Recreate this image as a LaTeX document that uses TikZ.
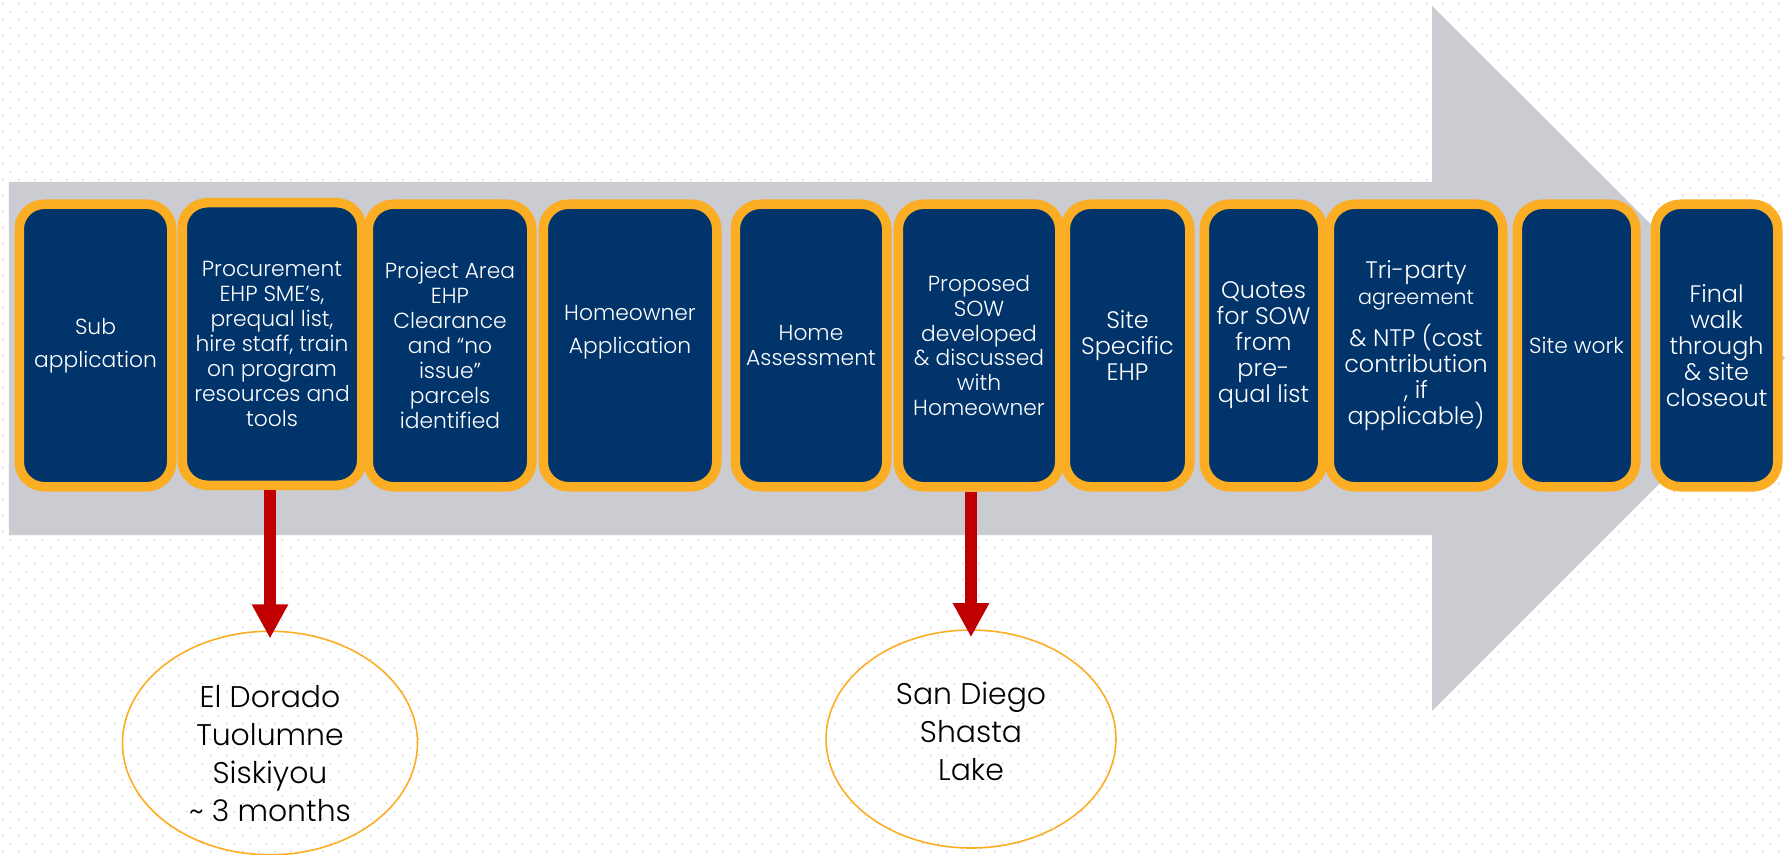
\documentclass[tikz,border=0pt]{standalone}
\usepackage{fontspec}
\IfFontExistsTF{Poppins Light}{\setmainfont{Poppins Light}}{\setmainfont{Poppins}}
\usetikzlibrary{arrows.meta,positioning,shapes.geometric,patterns.meta}

\definecolor{stagenavy}{HTML}{00346A}
\definecolor{stageorange}{HTML}{FBAD24}
\definecolor{bandgray}{HTML}{CBCCD1}
\definecolor{pinred}{HTML}{C00000}
\definecolor{dotgray}{HTML}{C4C4C4}

\tikzdeclarepattern{
  name=slidedots,
  type=colored,
  bottom left={(0,0)},
  top right={(0.16,0.16)},
  tile size={(0.16,0.16)},
  code={
    \fill[dotgray] (0.04,0.04) circle (0.008);
    \fill[dotgray] (0.12,0.12) circle (0.008);
  }
}

\tikzset{
  stage/.style={draw=stageorange,fill=stagenavy,line width=0.095cm,rounded corners=0.25cm,
    minimum height=2.825cm,inner sep=0pt,text=white,align=center,
    font=\fontsize{6.2}{7.1}\selectfont},
  bigstage/.style={stage,font=\fontsize{6.8}{7.4}\selectfont},
  county/.style={ellipse,draw=stageorange,line width=0.45pt,inner sep=0pt,align=center,
    font=\fontsize{8.5}{10.8}\selectfont},
  pinarrow/.style={draw=pinred,line width=0.12cm,shorten >=-0.08cm,
    -{Triangle[width=0.34cm,length=0.34cm,fill=pinred]}},
}

\begin{document}
\begin{tikzpicture}
  \useasboundingbox (0,0) rectangle (17.85,8.54);
  % slide background
  \fill[white] (0,0) rectangle (17.85,8.54);
  \fill[pattern=slidedots] (0,0) rectangle (17.85,8.54);

  % big grey process arrow
  \fill[bandgray] (0.09,6.72) -- (14.32,6.72) -- (14.32,8.48) -- (17.85,4.96)
    -- (14.32,1.43) -- (14.32,3.19) -- (0.09,3.19) -- cycle;

  % process steps
  \node[stage,minimum width=1.525cm] (sub) at (0.955,5.085) {Sub\\[2.3pt]application};
  \node[stage,minimum width=1.795cm] (procure) at (2.72,5.10) {Procurement\\EHP SME’s,\\prequal list,\\hire staff, train\\on program\\resources and\\tools};
  \node[stage,minimum width=1.635cm] (projarea) at (4.50,5.085) {Project Area\\EHP\\Clearance\\and “no\\issue”\\parcels\\identified};
  \node[stage,minimum width=1.735cm] (hoapp) at (6.30,5.085) {Homeowner\\[2.3pt]Application\\[2.3pt]\mbox{}};
  \node[stage,minimum width=1.515cm] (homeassess) at (8.11,5.085) {Home\\Assessment};
  \node[stage,minimum width=1.615cm] (sow) at (9.79,5.085) {Proposed\\SOW\\developed\\\& discussed\\with\\Homeowner};
  \node[bigstage,minimum width=1.245cm] (siteehp) at (11.275,5.085) {Site\\Specific\\EHP};
  \node[bigstage,minimum width=1.185cm] (quotes) at (12.635,5.085) {Quotes\\for SOW\\from\\pre-\\qual list};
  \node[bigstage,minimum width=1.735cm] (triparty) at (14.16,5.085) {Tri-party\\{\fontsize{5.9}{6.5}\selectfont agreement}\\[2.8pt]\& NTP (cost\\contribution\\, if\\applicable)};
  \node[stage,minimum width=1.185cm] (sitework) at (15.765,5.085) {Site work};
  \node[bigstage,minimum width=1.225cm] (closeout) at (17.165,5.085) {Final\\walk\\through\\\& site\\closeout};

  % counties
  \node[county,minimum width=2.95cm,minimum height=2.14cm] (eldorado) at (2.70,1.11)
    {\rule{0pt}{12.5pt}El Dorado\\Tuolumne\\Siskiyou\\\textasciitilde\ 3 months};
  \node[county,minimum width=2.90cm,minimum height=2.18cm] (sandiego) at (9.71,1.15)
    {San Diego\\Shasta\\Lake\rule[-4.6pt]{0pt}{4.6pt}};

  \draw[pinarrow] (procure.south -| eldorado.north) -- (eldorado.north);
  \draw[pinarrow] (sow.south -| sandiego.north) -- (sandiego.north);
\end{tikzpicture}
\end{document}
